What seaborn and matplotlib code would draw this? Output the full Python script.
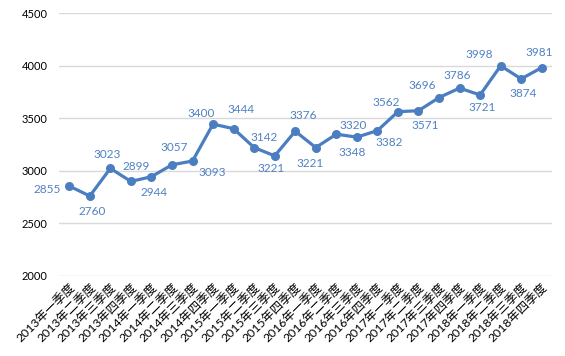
import matplotlib
matplotlib.use("Agg")
import matplotlib.pyplot as plt
import pandas as pd
import seaborn as sns

years = ["2013", "2014", "2015", "2016", "2017", "2018"]
quarters = ["一", "二", "三", "四"]
periods = [f"{y}年{q}季度" for y in years for q in quarters]

values = [2855, 2760, 3023, 2899, 2944, 3057, 3093, 3444, 3400, 3221, 3142, 3376,
          3221, 3348, 3320, 3382, 3562, 3571, 3696, 3786, 3721, 3998, 3874, 3981]

# label texts as printed on the chart
labels = ["2855", "2760", "3023", "2899", "2944", "3057", "3093", "3400", "3444", "3142",
          "3221", "3376", "3221", "3320", "3348", "3382", "3562", "3571", "3696", "3786",
          "3721", "3998", "3874", "3981"]

# label placement, pixel offsets from each point (dx, dy up)
offsets = [(-22, -3), (2, -15), (-3, 14), (5, 15), (3, -16), (2, 17), (20, -11), (-12, 11),
           (7, 19), (10, 10), (-4, -13), (8, 16), (-6, -16), (17, 9), (-5, -15), (12, -12),
           (-12, 9), (7, -15), (-17, 12), (-2, 13), (2, -13), (-21, 11), (2, -15), (-3, 15)]

df = pd.DataFrame({"period": periods, "value": values})

sns.set_style("white")
plt.rcParams["font.family"] = ["Lato", "Noto Sans CJK SC", "DejaVu Sans"]

blue = "#4A7EC0"
fig = plt.figure(figsize=(5.65, 3.56), dpi=100)
ax = fig.add_axes([59 / 565, 1 - 276 / 356, 493 / 565, 263 / 356])

sns.lineplot(data=df, x="period", y="value", ax=ax, color=blue, linewidth=2.3,
             marker="o", markersize=6.5, markeredgewidth=0, sort=False)

for i, (txt, (dx, dy)) in enumerate(zip(labels, offsets)):
    ax.annotate(txt, (i, values[i]), xytext=(dx * 0.72, dy * 0.72),
                textcoords="offset points", ha="center", va="center",
                fontsize=8.5, color="#4F81C4")

ax.set_xlim(-0.5, len(periods) - 0.5)
ax.set_ylim(2000, 4500)
ax.set_yticks(range(2000, 4501, 500))
ax.grid(axis="y", color="#D9D9D9", linewidth=1)
ax.set_axisbelow(True)
for s in ax.spines.values():
    s.set_visible(False)
ax.tick_params(axis="both", length=0, labelsize=8, colors="black")
ax.tick_params(axis="y", pad=8)
ax.tick_params(axis="x", pad=4)
plt.setp(ax.get_xticklabels(), rotation=45, ha="right", rotation_mode="anchor", fontsize=8.8)
ax.set_xlabel("")
ax.set_ylabel("")

fig.savefig("out.png", dpi=100)
